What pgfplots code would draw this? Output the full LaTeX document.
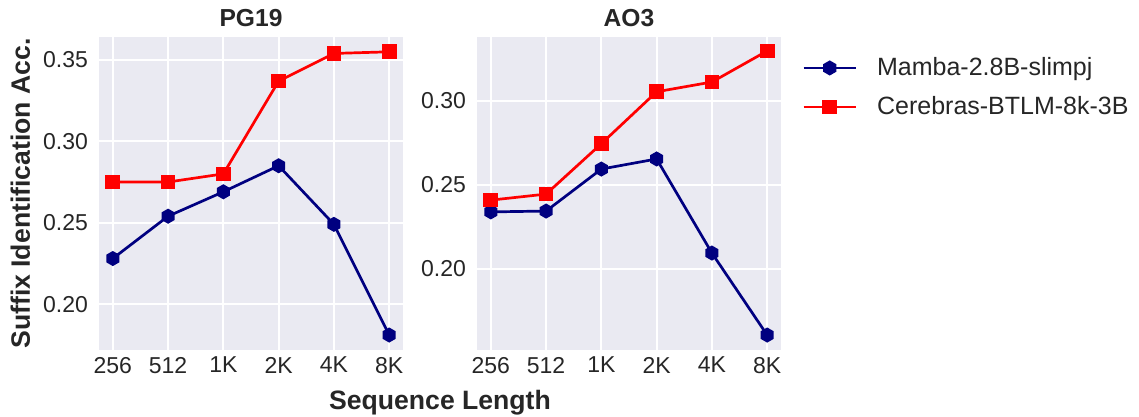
\documentclass[border=0pt]{standalone}
\usepackage{pgfplots}
\pgfplotsset{compat=1.18}
\usepackage{fontspec}
\setmainfont{Liberation Sans}
\definecolor{bgcol}{HTML}{EAEAF2}
\definecolor{txt}{HTML}{262626}
\definecolor{navyc}{HTML}{000080}
\pgfdeclareplotmark{hex*}{%
  \pgfpathmoveto{\pgfpointpolar{90}{\pgfplotmarksize}}%
  \pgfpathlineto{\pgfpointpolar{150}{\pgfplotmarksize}}%
  \pgfpathlineto{\pgfpointpolar{210}{\pgfplotmarksize}}%
  \pgfpathlineto{\pgfpointpolar{270}{\pgfplotmarksize}}%
  \pgfpathlineto{\pgfpointpolar{330}{\pgfplotmarksize}}%
  \pgfpathlineto{\pgfpointpolar{30}{\pgfplotmarksize}}%
  \pgfpathclose\pgfusepathqfillstroke}
\pgfplotsset{
  every axis title/.style={at={(0.5,1)}, anchor=base, yshift=5pt, font=\fontsize{12.3}{14}\selectfont\bfseries, text=txt},
  darkgrid/.style={
    scale only axis, width=152pt, height=156.5pt,
    xmin=-0.25, xmax=5.25,
    xtick={0,1,2,3,4,5},
    xticklabels={256,512,1K,2K,4K,8K},
    axis line style={draw=none},
    major tick length=0pt,
    grid=major,
    major grid style={white, line width=1pt},
    axis background/.style={fill=bgcol},
    tick label style={font=\fontsize{11.5}{13}\selectfont, text=txt},
    yticklabel style={xshift=-2pt},
    /pgf/number format/assume math mode=true,
    yticklabel={\pgfmathprintnumber[fixed,fixed zerofill,precision=2]{\tick}},
  },
  mamba/.style={navyc, line width=1.35pt, mark=hex*, mark size=3pt, mark options={solid, fill=navyc, draw=navyc}},
  cereb/.style={red, line width=1.35pt, mark=square*, mark size=3pt, mark options={solid, fill=red, draw=red}},
}
\begin{document}
\begin{tikzpicture}
\useasboundingbox (-49.5pt,-33.5pt) rectangle (520pt,175pt);
\begin{axis}[darkgrid, title={PG19},
  ymin=0.1718, ymax=0.3641, ytick={0.20,0.25,0.30,0.35}]
\addplot[mamba] coordinates {(0,0.228) (1,0.254) (2,0.269) (3,0.285) (4,0.249) (5,0.181)};
\addplot[cereb] coordinates {(0,0.275) (1,0.275) (2,0.280) (3,0.337) (4,0.354) (5,0.355)};
\end{axis}
\begin{axis}[darkgrid, at={(189pt,0pt)}, title={AO3},
  ymin=0.1518, ymax=0.3381, ytick={0.20,0.25,0.30},
  legend style={at={(1,1)}, anchor=north west, xshift=10.5pt, yshift=-9pt,
    draw=none, fill=none, inner sep=0pt, row sep=7pt, column sep=9pt,
    font=\fontsize{12.5}{14}\selectfont, text=txt,
    nodes={inner sep=1pt}},
  legend cell align=left,
  legend image code/.code={\draw[mark repeat=2, mark phase=2] plot coordinates {(0pt,0pt) (13pt,0pt) (26pt,0pt)};},
  ]
\addplot[mamba] coordinates {(0,0.234) (1,0.2345) (2,0.2595) (3,0.2655) (4,0.2095) (5,0.1607)};
\addplot[cereb] coordinates {(0,0.241) (1,0.2446) (2,0.2746) (3,0.3055) (4,0.3113) (5,0.3298)};
\legend{Mamba-2.8B-slimpj, Cerebras-BTLM-8k-3B}
\end{axis}
\node[anchor=base, font=\fontsize{13.3}{15}\selectfont\bfseries, text=txt] at (170.5pt,-30pt) {Sequence Length};
\node[anchor=base, rotate=90, font=\fontsize{13.3}{15}\selectfont\bfseries, text=txt] at (-34.5pt,78.25pt) {Suffix Identification Acc.};
\end{tikzpicture}
\end{document}
